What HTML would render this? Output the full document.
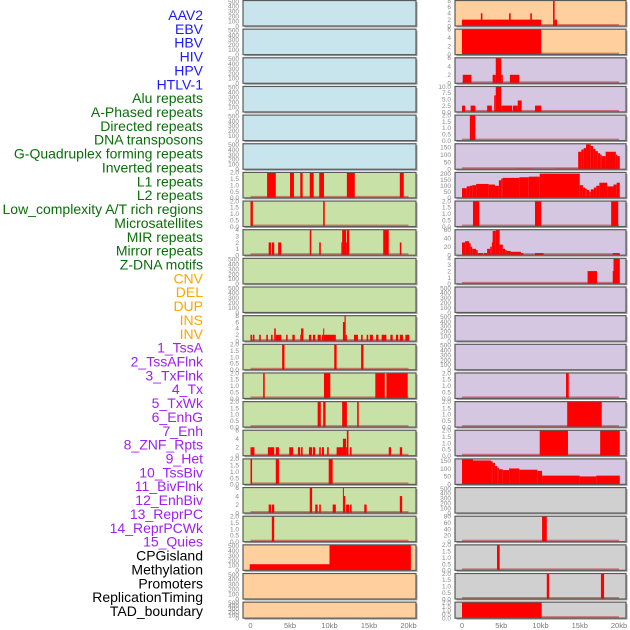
<!DOCTYPE html>
<html><head><meta charset="utf-8"><style>
html,body{margin:0;padding:0;background:#fff;width:630px;height:630px;overflow:hidden}
svg{display:block}
text{font-family:"Liberation Sans",sans-serif}
</style></head><body>
<svg id="chart" width="630" height="630"></svg>
<script>
const labels=["AAV2","EBV","HBV","HIV","HPV","HTLV-1","Alu repeats","A-Phased repeats","Directed repeats","DNA transposons","G-Quadruplex forming repeats","Inverted repeats","L1 repeats","L2 repeats","Low_complexity A/T rich regions","Microsatellites","MIR repeats","Mirror repeats","Z-DNA motifs","CNV","DEL","DUP","INS","INV","1_TssA","2_TssAFlnk","3_TxFlnk","4_Tx","5_TxWk","6_EnhG","7_Enh","8_ZNF_Rpts","9_Het","10_TssBiv","11_BivFlnk","12_EnhBiv","13_ReprPC","14_ReprPCWk","15_Quies","CPGisland","Methylation","Promoters","ReplicationTiming","TAD_boundary"];
const labelGroups=[6,13,5,15,5];
const groupColors=["#1a1aff","#0a6e0a","#ffa500","#a020f0","#000000"];
const xTicks=[0,5,10,15,20];
const xTickLabels=["0","5kb","10kb","15kb","20kb"];

const leftBg=["b","b","b","b","b","b","g","g","g","g","g","g","g","g","g","g","g","g","g","o","o","o"];
const leftYMax=[520,520,520,520,520,520,2,2,4,520,520,8,2,2,2,6,2,6,2,520,520,520];
const leftStep=[100,100,100,100,100,100,0.5,0.5,1,100,100,2,0.5,0.5,0.5,2,0.5,2,0.5,100,100,100];
const leftSegs=[[],[],[],[],[],[],
[[2.1,3.2,2],[5.0,5.5,2],[6.3,6.6,2],[7.5,8.0,2],[8.7,9.3,2],[12.2,13.2,2],[18.9,19.4,2]],
[[0.0,0.3,2],[9.2,9.4,2]],
[[2.3,2.6,2],[2.7,3.0,2],[3.5,3.9,2],[7.5,7.7,4],[8.7,8.9,2],[11.5,11.6,2],[11.6,12.1,4],[12.1,12.2,2],[12.2,12.5,4],[16.8,17.5,4],[18.9,19.1,2]],
[],[],
[[0,0.2,2],[0.3,0.5,2],[1.1,1.3,2],[2.0,2.2,2],[2.6,2.8,2],[3.0,3.2,4],[3.2,3.9,2],[4.5,4.7,2],[5.3,5.6,2],[6.3,6.4,2],[6.4,6.7,4],[7.4,7.7,2],[7.9,8.2,2],[8.5,8.9,2],[9.05,9.2,2],[9.2,9.3,4],[9.3,10.8,2],[11.7,11.9,6],[11.9,12.05,8],[12.05,12.2,2],[13.1,13.6,2],[14.0,14.2,2],[14.7,14.9,2],[15.1,15.5,2],[15.9,16.2,2],[16.6,17.2,2],[17.7,18.0,2],[18.4,18.7,2],[18.9,19.3,2],[19.6,20.1,2]],
[[4.0,4.3,2],[10.6,10.9,2],[14.0,14.3,2]],
[[1.6,1.8,2],[9.3,10.1,2],[15.8,17.0,2],[17.2,19.9,2]],
[[8.5,8.9,2],[9.2,9.5,2],[11.6,12.2,2],[13.5,13.7,2]],
[[0,0.5,2],[2.2,3.0,2],[3.2,3.6,2],[4.9,5.4,2],[6.0,6.3,2],[6.4,6.6,2],[7.4,7.8,2],[7.9,8.2,2],[8.7,8.9,2],[9.05,9.3,2],[9.7,9.9,2],[10.9,11.7,2],[11.7,12.1,4],[12.1,12.2,2],[12.2,12.4,6],[12.6,12.8,2],[17.5,17.8,2],[18.9,19.2,2]],
[[0,0.2,2],[3.2,3.6,2],[9.9,10.4,2]],
[[2.3,2.6,2],[2.7,3.0,2],[7.5,7.8,6],[8.2,8.5,2],[8.7,8.9,2],[10.4,10.8,2],[11.7,11.8,6],[11.8,12.0,4],[12.1,12.5,2],[12.6,12.8,2],[14.4,14.7,2],[18.9,19.2,4]],
[[2.7,3.0,2]],
[[-0.1,10.0,125],[10.0,20.3,520]],
[],[]];

const rightBg=["o","o","p","p","p","p","p","p","p","p","p","p","p","p","p","p","p","y","y","y","y","y"];
const rightYMax=[8,6,6,10,2,175,210,2,60,4,520,520,520,2,2,2,160,520,80,2,2,2];
const rightStep=[2,2,2,2.5,0.5,50,50,0.5,20,1,100,100,100,0.5,0.5,0.5,50,100,20,0.5,0.5,0.5];
const rightSegs=[
[[0,10.1,2],[2.4,2.6,4],[6.0,6.2,4],[8.7,8.9,4],[11.6,11.8,8],[11.8,12.1,2]],
[[0,10.1,6]],
[[0.1,1.2,2],[3.9,4.3,2],[4.3,5.0,6],[5.0,5.2,2],[6.1,7.3,2]],
[[0,0.4,2.5],[1.1,1.7,2.5],[3.2,3.8,2.5],[4.1,4.3,6.5],[4.3,5.0,10],[5.0,6.4,2.5],[6.5,7.1,2.5],[7.1,7.6,4.5],[9.3,10.1,2.5]],
[[1.0,1.7,2]],
[[6.9,8.8,5],[12.0,14.8,5],[14.8,15.2,120],[15.2,15.5,135],[15.5,15.8,145],[15.8,16.4,170],[16.4,16.7,160],[16.7,17.0,140],[17.0,17.3,125],[17.3,17.6,110],[17.6,17.8,100],[17.8,18.3,90],[18.3,19.6,120],[19.6,19.8,100],[19.8,20.1,90]],
[[0,0.6,80],[0.6,1.0,95],[1.0,1.3,100],[1.3,1.8,105],[1.8,3.4,115],[3.4,4.2,110],[4.2,4.7,100],[4.7,5.0,145],[5.0,5.2,160],[5.2,7.3,165],[7.3,8.5,170],[8.5,9.9,175],[9.9,15.0,200],[15.0,15.4,105],[15.4,15.7,85],[15.7,15.9,75],[15.9,16.2,65],[16.2,16.4,50],[16.4,16.8,70],[16.8,17.1,85],[17.1,17.5,100],[17.5,18.5,125],[18.5,19.3,95],[19.3,19.7,110],[19.7,20.1,125]],
[[1.4,2.2,2],[9.3,10.1,2],[19.0,19.9,2]],
[[0,0.4,30],[0.4,0.9,33],[0.9,1.1,28],[1.1,1.3,20],[1.3,1.8,15],[1.8,2.0,12],[2.0,2.7,5],[2.8,3.2,5],[3.2,3.6,15],[3.6,3.8,20],[3.8,3.9,30],[3.9,4.3,57],[4.3,4.8,60],[4.8,5.2,25],[5.2,5.5,15],[5.5,5.7,12],[5.7,6.2,10],[6.2,7.5,8],[7.5,7.8,5],[9.3,10.4,5],[19.2,20.1,5]],
[[16.0,17.2,2],[19.2,19.4,2],[19.3,20.1,4]],
[],[],[],
[[13.25,13.6,2]],
[[13.4,17.8,2]],
[[9.9,13.5,2],[17.6,20.1,2]],
[[0,1.4,160],[1.4,3.7,150],[3.7,3.9,145],[3.9,4.2,135],[4.2,4.5,115],[4.5,4.7,105],[4.7,5.2,95],[5.2,6.0,90],[6.0,7.3,100],[7.3,9.6,92],[9.6,10.2,85],[10.2,15.0,55],[15.0,17.1,50],[17.1,20.1,55]],
[],
[[10.2,10.8,80]],
[[4.46,4.8,2]],
[[10.8,11.1,2],[17.7,18.1,2]],
[[0,10.15,2]]];

const bgColors={b:"#c8e4ec",g:"#c8e1a6",o:"#ffd09e",p:"#d5c6e2",y:"#d0d0d0"};
const NS="http://www.w3.org/2000/svg";
const svg=document.getElementById("chart");
function mk(tag,attrs,parent){const e=document.createElementNS(NS,tag);for(const k in attrs)e.setAttribute(k,attrs[k]);(parent||svg).appendChild(e);return e;}
function rowTop(r){return 0.5+r*28.65;}
function rowH(r){return r===21?16:25.5;}
const cols=[
 {x0:243,x1:416,sx:kb=>250.5+kb*7.9,tickX:239,bg:leftBg,ym:leftYMax,st:leftStep,segs:leftSegs,name:"left"},
 {x0:455,x1:626,sx:kb=>462+kb*7.85,tickX:451,bg:rightBg,ym:rightYMax,st:rightStep,segs:rightSegs,name:"right"}];

// labels
let li=0;
labelGroups.forEach((n,g)=>{for(let i=0;i<n;i++){const t=mk("text",{x:203,y:15+li*13.86+5,"text-anchor":"end","font-size":"14",fill:groupColors[g]});
t.textContent=labels[li];


li++;}});

cols.forEach(c=>{
 for(let r=0;r<22;r++){
  const top=rowTop(r),h=rowH(r),bot=top+h;
  const g=mk("g",{});
  
  
  mk("rect",{x:c.x0+1.5,y:top+1.5,width:c.x1-c.x0,height:h,fill:"#a0a0a0"},g);
  mk("rect",{x:c.x0,y:top,width:c.x1-c.x0,height:h,fill:bgColors[c.bg[r]]},g);
  const ymax=c.ym[r];
  const sy=v=>bot-Math.min(v,ymax)/ymax*h;
  const hasData=c.segs[r].length>0;
  if(hasData&&c.bg[r]!=="o"||(c.bg[r]==="o"&&c.name==="right"))mk("rect",{x:c.sx(0),y:bot-2,width:c.sx(20)-c.sx(0),height:2,fill:"rgba(190,40,40,0.55)"},g);
  c.segs[r].forEach(s=>{
   const b=mk("rect",{x:c.sx(s[0]),y:sy(s[2]),width:Math.max(1,c.sx(s[1])-c.sx(s[0])),height:bot-sy(s[2]),fill:"#ff0000"},g);
   
   
  });
  mk("rect",{x:c.x0,y:top,width:c.x1-c.x0,height:h,fill:"none",stroke:"#5a5a5a","stroke-width":"1.2"},g);
  const step=c.st[r];const dec=(step%1!==0||ymax===10)?1:0;
  for(let v=0;v<=ymax+1e-9;v+=step){
   const t=mk("text",{x:c.tickX,y:sy(v)+2.3,"text-anchor":"end","font-size":"6.5",fill:"#888"},g);
   t.textContent=v.toFixed(dec);
  }
 }
 xTicks.forEach((k,i)=>{const t=mk("text",{x:c.sx(k),y:628,"text-anchor":"middle","font-size":"7.5",fill:"#777"});
 t.textContent=xTickLabels[i];
 
 });
});
</script>
</body></html>
